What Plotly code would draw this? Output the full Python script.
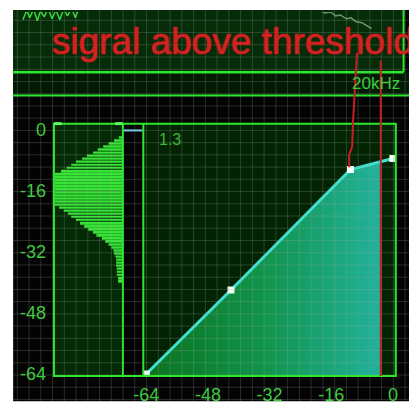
import plotly.graph_objects as go

W, H = 417, 409
OFF = 8  # the page body adds an 8px margin; positions below are in window pixels

# ---------------- data ----------------
# compressor transfer curve (input dB -> output dB), handles as white squares
curve_in_db = [-64, -42, -11, 0]
curve_out_db = [-64, -42, -10.5, -7.6]

# filled region under the curve, up to the current input level (~ -3 dB)
fill_in_db = [-64, -42, -11, -3, -3, -64]
fill_out_db = [-64, -42, -10.5, -8.4, -64.51, -64.51]

tick_vals = [-64, -48, -32, -16, 0]
tick_text = ["-64", "-48", "-32", "-16", "0"]

# input level histogram (level in dB, relative count in %)
hist_levels_db = [-2.0, -2.8, -3.6, -4.4, -5.2, -6.0, -6.8, -7.6, -8.4, -9.2, -10.0, -10.8, -11.6,
                  -12.4, -13.2, -14.0, -14.8, -15.6, -16.4, -17.2, -18.0, -18.8, -19.6,
                  -20.4, -21.2, -22.0, -22.8, -23.6, -24.4, -25.2, -26.0, -26.8, -27.6, -28.4,
                  -29.2, -30.0, -30.8, -31.6, -32.4, -33.2, -34.0, -34.8, -35.6, -36.4, -37.2,
                  -38.0, -38.8, -39.6]
hist_counts_pct = [6, 13, 21, 29, 37, 44, 53, 60, 69, 76, 83, 91, 100,
                   100, 100, 100, 100, 100, 100, 100, 100, 100, 100,
                   94, 87, 81, 76, 69, 63, 57, 51, 44, 39, 31,
                   26, 21, 17, 14, 13, 11, 10, 10, 10, 9, 9,
                   9, 7, 7]

# spectrum fragments visible in the top panel
spec_low_hz = [23.8, 25.4, 26.8, 28.7, 30.7, 32.4, 34.7, 37.1, 39.8, 42.6, 45.6, 48.9, 52.4, 56.1, 60.1, 64.4]
spec_low_db = [-9.4, 0.0, -7.5, 0.9, -10.3, -0.9, -6.6, 1.9, -8.4, 0.0, -9.4, 0.9, -5.6, 1.9, -7.5, 2.8]
spec_high_hz = [4484, 4972, 5512, 6006, 6546, 7257, 7907, 8616, 9554, 10411, 11344]
spec_high_db = [0.0, -2.8, -1.9, -5.6, -4.7, -8.4, -7.5, -11.25, -12.2, -15.0, -17.8]

ratio_text = "1.3"
note_text = "sigral above threshold"
freq_text = "20kHz"


def fx(p):
    return (p - OFF) / W


def fy(p):
    return 1 - (p - OFF) / H


GREEN = "#2ee62e"
LABEL_GREEN = "#3ccc3c"
RED = "#c82020"
FONT = "Liberation Sans"

fig = go.Figure()

# spectrum fragments (top panel)
fig.add_trace(go.Scatter(x=spec_low_hz, y=spec_low_db, mode="lines",
                         line=dict(color="#38d838", width=1.5),
                         xaxis="x3", yaxis="y3", hoverinfo="skip"))
fig.add_trace(go.Scatter(x=spec_high_hz, y=spec_high_db, mode="lines",
                         line=dict(color="#6a946a", width=1.5),
                         xaxis="x3", yaxis="y3", hoverinfo="skip"))

# histogram bars (right aligned)
fig.add_trace(go.Bar(orientation="h", x=hist_counts_pct, y=hist_levels_db, width=0.5,
                     marker=dict(color="#36e436", line=dict(width=0)),
                     xaxis="x2", yaxis="y", hoverinfo="skip"))

# fill under curve
fig.add_trace(go.Scatter(x=fill_in_db, y=fill_out_db, mode="lines", fill="toself",
                         line=dict(width=0, color="rgba(0,0,0,0)"),
                         fillgradient=dict(type="horizontal", start=-64, stop=-3,
                                           colorscale=[[0, "#0a721e"], [0.5, "#11954e"], [1, "#22b4a2"]]),
                         xaxis="x", yaxis="y", hoverinfo="skip"))

# transfer curve
fig.add_trace(go.Scatter(x=curve_in_db, y=curve_out_db, mode="lines+markers",
                         line=dict(color="#3ee0d2", width=3),
                         marker=dict(symbol="square", size=7, color="#f2fff4",
                                     line=dict(width=0)),
                         xaxis="x", yaxis="y", hoverinfo="skip"))

# ---------------- shapes ----------------
shapes = []
# black canvas inside the white border
shapes.append(dict(type="rect", xref="paper", yref="paper", x0=fx(3), x1=fx(413), y0=fy(409), y1=fy(6),
                   fillcolor="#030303", line=dict(width=0), layer="below"))
# top panel
shapes.append(dict(type="rect", xref="paper", yref="paper", x0=fx(3), x1=fx(405), y0=fy(70), y1=fy(6),
                   fillcolor="#052c08", line=dict(width=0), layer="below"))
shapes.append(dict(type="rect", xref="paper", yref="paper", x0=fx(3), x1=fx(413), y0=fy(94), y1=fy(70),
                   fillcolor="#031a05", line=dict(width=0), layer="below"))
# histogram panel bg
shapes.append(dict(type="rect", xref="paper", yref="paper", x0=fx(45), x1=fx(116), y0=fy(383), y1=fy(123),
                   fillcolor="#032a05", line=dict(width=0), layer="below"))
# transfer plot bg
shapes.append(dict(type="rect", xref="paper", yref="paper", x0=fx(137), x1=fx(397), y0=fy(383), y1=fy(123),
                   fillcolor="#022403", line=dict(width=0), layer="below"))

# grid (one path)
segs = []
gx = 7.3
while gx < 413:
    segs.append(f"M{fx(gx):.5f},{fy(6):.5f}L{fx(gx):.5f},{fy(409):.5f}")
    gx += 12.1
gy = 4.0
while gy < 409:
    if gy > 6:
        segs.append(f"M{fx(3):.5f},{fy(gy):.5f}L{fx(413):.5f},{fy(gy):.5f}")
    gy += 12.6
shapes.append(dict(type="path", xref="paper", yref="paper", path="".join(segs),
                   line=dict(color="rgba(165,175,165,0.24)", width=1), layer="above"))

# panel borders
shapes.append(dict(type="line", xref="paper", yref="paper", x0=fx(3), x1=fx(405), y0=fy(70), y1=fy(70),
                   line=dict(color=GREEN, width=2.5), layer="above"))
shapes.append(dict(type="line", xref="paper", yref="paper", x0=fx(405), x1=fx(405), y0=fy(6), y1=fy(70),
                   line=dict(color=GREEN, width=2), layer="above"))
shapes.append(dict(type="line", xref="paper", yref="paper", x0=fx(3), x1=fx(413), y0=fy(94), y1=fy(94),
                   line=dict(color=GREEN, width=2), layer="above"))
shapes.append(dict(type="rect", xref="paper", yref="paper", x0=fx(45), x1=fx(397), y0=fy(383), y1=fy(123),
                   line=dict(color=GREEN, width=2), layer="above"))
for xv in (116, 137):
    shapes.append(dict(type="line", xref="paper", yref="paper", x0=fx(xv), x1=fx(xv), y0=fy(123), y1=fy(383),
                       line=dict(color=GREEN, width=2), layer="above"))
for x0, x1 in ((45, 53), (108, 116)):
    shapes.append(dict(type="rect", xref="paper", yref="paper", x0=fx(x0), x1=fx(x1), y0=fy(124.5), y1=fy(121.5),
                       fillcolor="#5cff5c", line=dict(width=0), layer="above"))
# gain reduction meter tick
shapes.append(dict(type="line", xref="paper", yref="paper", x0=fx(117), x1=fx(136), y0=fy(130), y1=fy(130),
                   line=dict(color="#78cce8", width=2), layer="above"))

# red annotation lines
pts1 = [(357, 50), (353, 120), (352, 147), (349, 155), (349, 168)]
p1 = "M" + "L".join(f"{fx(a):.5f},{fy(b):.5f}" for a, b in pts1)
shapes.append(dict(type="path", xref="paper", yref="paper", path=p1,
                   line=dict(color=RED, width=2), layer="above"))
shapes.append(dict(type="line", xref="paper", yref="paper", x0=fx(381.5), x1=fx(381.5), y0=fy(58), y1=fy(383),
                   line=dict(color=RED, width=2), layer="above"))

annotations = [
    dict(text=note_text, xref="paper", yref="paper", x=fx(41), y=fy(38), xanchor="left", yanchor="middle",
         showarrow=False,
         font=dict(family=FONT, size=37, color="#d22222",
                   shadow="0px 0px 1px #c81c1c, 0px 0px 1.5px #c81c1c")),
    dict(text=freq_text, xref="paper", yref="paper", x=fx(377), y=fy(82), xanchor="center", yanchor="middle",
         showarrow=False, font=dict(family=FONT, size=17, color=LABEL_GREEN)),
    dict(text=ratio_text, xref="paper", yref="paper", x=fx(164), y=fy(139), xanchor="center", yanchor="middle",
         showarrow=False, font=dict(family=FONT, size=16, color="#3cb83c")),
]

tickfont = dict(family=FONT, size=18, color=LABEL_GREEN)

# spectrum axis: window pixels 8..405 horizontally (log 20 Hz..20 kHz from pixel 3), 8..70 vertically
spec_x0 = 1.30103 + (OFF - 3) / 134.0
spec_y1 = -(OFF - 6) * 0.9375

fig.update_layout(
    width=W, height=H, autosize=False,
    margin=dict(l=0, r=0, t=0, b=0, pad=0),
    paper_bgcolor="white", plot_bgcolor="rgba(0,0,0,0)",
    showlegend=False, hovermode=False,
    shapes=shapes, annotations=annotations,
    xaxis=dict(domain=[fx(137), fx(397)], range=[-64.76, 0.756], anchor="y",
               tickvals=tick_vals, ticktext=tick_text, tickfont=tickfont, ticks="",
               ticklabelstandoff=6, showgrid=False, zeroline=False, showline=False),
    yaxis=dict(domain=[fy(383), fy(123)], range=[-64.51, 1.52], anchor="free", position=fx(45),
               tickvals=tick_vals, ticktext=tick_text, tickfont=tickfont, ticks="",
               ticklabelstandoff=8, showgrid=False, zeroline=False, showline=False),
    xaxis2=dict(domain=[fx(46), fx(116)], range=[100, 0], anchor="y", visible=False,
                showgrid=False, zeroline=False),
    xaxis3=dict(domain=[0, fx(405)], type="log", range=[spec_x0, 4.30103], anchor="y3",
                visible=False, showgrid=False, zeroline=False),
    yaxis3=dict(domain=[fy(70), 1], range=[-60, spec_y1], anchor="x3", visible=False,
                showgrid=False, zeroline=False),
)

fig.write_html("out.html")
